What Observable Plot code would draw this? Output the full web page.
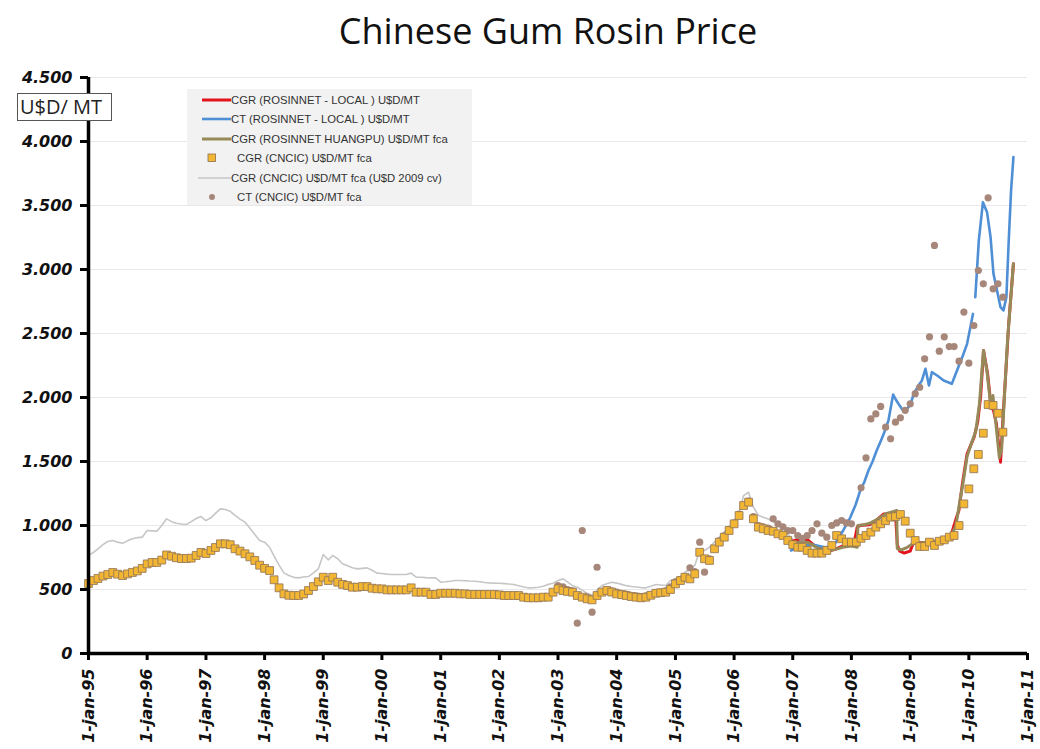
<!DOCTYPE html>
<html><head><meta charset="utf-8">
<script src="https://cdn.jsdelivr.net/npm/d3@7"></script>
<script src="https://cdn.jsdelivr.net/npm/@observablehq/plot@0.6"></script>
<style>
body{margin:0;background:#fff;width:1040px;height:749px;overflow:hidden;position:relative;font-family:"Open Sans",sans-serif}
#title{height:62px;line-height:62px;text-align:center;font-size:36px;color:#111;padding-left:56px;box-sizing:border-box;width:1040px}
#unit{position:absolute;left:17px;top:93px;width:91px;height:26px;border:1px solid #555;background:#fff;font-size:20px;line-height:26px;padding-left:2px;box-sizing:content-box;color:#222}
#legend{position:absolute;left:187px;top:89px;width:285px;height:116px;background:#f2f2f2}
.row{position:absolute;left:14px;height:16px;display:flex;align-items:center;font-family:"Liberation Sans",sans-serif;font-size:11.3px;color:#333;white-space:nowrap}
.row svg{flex:none}
</style></head><body>
<div id="title">Chinese Gum Rosin Price</div>
<div id="chart"></div>
<div id="unit">U$D/ MT</div>
<div id="legend"></div>
<script>
// ---- Data ----
// CGR (CNCIC) U$D/MT fca, monthly from Jan 1995
const cgrCncic = [
 547,570,586,605,617,633,620,609,622,633,645,665,
 700,711,711,730,770,760,748,742,742,745,766,790,
 781,805,828,857,857,850,818,800,779,755,727,690,
 665,648,576,513,466,455,453,453,465,492,523,560,
 596,570,596,557,540,531,518,518,523,523,510,505,
 505,497,497,497,497,497,513,479,479,479,461,461,
 471,471,471,471,466,466,461,461,461,461,461,461,
 458,453,453,453,453,440,435,435,435,440,440,479,
 505,492,485,479,453,440,427,419,453,479,492,480,
 466,460,453,445,440,435,440,455,471,475,479,500,
 544,570,596,583,622,791,740,727,818,870,909,961,
 1013,1078,1156,1182,1052,987,974,961,955,935,922,883,
 850,830,830,805,784,784,784,805,844,922,896,870,
 870,870,900,922,948,987,1013,1039,1065,1070,1086,1034,
 940,883,836,836,870,844,877,888,909,922,1000,1169,
 1286,1443,1555,1721,1945,1938,1877,1729
];
// CGR (CNCIC) U$D/MT fca (U$D 2009 cv), monthly from Jan 1995
const cgrCncic2009 = [
 766,790,818,850,875,883,870,862,880,896,905,909,
 961,958,955,1000,1052,1030,1018,1012,1008,1030,1055,1070,
 1039,1060,1095,1130,1125,1111,1080,1050,1026,980,930,883,
 870,830,760,690,630,609,595,591,598,601,630,661,
 773,732,766,740,701,685,670,661,665,669,650,628,
 625,620,617,617,617,617,628,596,596,593,591,591,
 557,560,565,570,570,568,566,565,560,555,552,550,
 549,546,543,539,530,520,513,515,518,525,540,549,
 570,583,560,530,518,495,470,453,495,531,545,557,
 550,540,530,523,520,515,513,525,539,535,531,570,
 583,600,635,660,688,805,805,830,870,909,950,987,
 1040,1091,1234,1260,1143,1080,1065,1050,1030,1013,980,930,
 896
];
// CT (CNCIC) U$D/MT fca, monthly from Jan 2003
const ctCncic = [
 530,520,500,490,237,961,440,323,674,480,500,490,
 480,470,465,455,450,445,450,460,475,480,490,520,
 560,580,600,670,640,870,635,740,820,880,920,970,
 1020,1090,1160,1190,1070,1000,990,980,1052,1013,990,960,
 961,922,900,922,961,1013,940,909,1000,1020,1039,1020,
 1013,null,1294,1529,1833,1872,1930,1768,1677,1807,1841,1900,
 1951,2030,2080,2302,2474,3188,2362,2474,2398,2398,2284,2667,
 2268,2562,2992,2888,3560,2849,2888,2784
];
// CGR (ROSINNET - LOCAL) U$D/MT
const redT = [2007.0,2007.1,2007.25,2007.35,2007.5,2007.62,2007.75,2007.9,2008.05,2008.1,2008.15,2008.3,2008.42,2008.55,2008.7,2008.75,2008.78,2008.82,2008.9,2009.0,2009.05,2009.15,2009.3,2009.45,2009.6,2009.7,2009.78,2009.83,2009.89,2009.97,2010.09,2010.15,2010.2,2010.25,2010.32,2010.38,2010.42,2010.47,2010.54,2010.59,2010.68,2010.76];
const redV = [880,890,890,850,810,800,820,850,870,990,1000,1005,1040,1090,1094,1090,850,800,785,800,860,865,870,880,895,930,1050,1117,1326,1560,1690,1807,2003,2367,2185,1924,1900,1794,1495,1900,2575,3044];
// CT (ROSINNET - LOCAL) U$D/MT  (null = gap in the line)
const blueT = [2006.97,2007.1,2007.2,2007.35,2007.45,2007.55,2007.64,2007.72,2007.78,2007.86,2007.98,2008.07,2008.15,2008.22,2008.29,2008.36,2008.43,2008.5,2008.55,2008.63,2008.71,2008.76,2008.8,2008.86,2008.92,2009.0,2009.06,2009.15,2009.2,2009.26,2009.32,2009.37,2009.46,2009.57,2009.71,2009.82,2009.9,2009.97,2010.07,2010.09,2010.11,2010.17,2010.24,2010.31,2010.37,2010.42,2010.48,2010.54,2010.59,2010.64,2010.68,2010.72,2010.76];
const blueV = [805,830,845,850,840,830,835,860,900,961,1062,1160,1273,1340,1430,1500,1586,1660,1716,1820,2023,1980,1951,1910,1898,1940,2029,2100,2133,2224,2094,2198,2172,2133,2107,2237,2330,2419,2653,null,2784,3227,3526,3448,3253,2966,2836,2706,2680,2784,3227,3617,3878];
// CGR (ROSINNET HUANGPU) U$D/MT fca
const oliveT = [2007.0,2007.1,2007.25,2007.4,2007.55,2007.7,2007.85,2008.0,2008.1,2008.11,2008.2,2008.3,2008.45,2008.6,2008.72,2008.77,2008.78,2008.85,2008.95,2009.05,2009.2,2009.35,2009.5,2009.6,2009.7,2009.78,2009.85,2009.9,2009.97,2010.05,2010.12,2010.18,2010.25,2010.31,2010.37,2010.41,2010.46,2010.52,2010.56,2010.6,2010.66,2010.76];
const oliveV = [860,870,870,830,800,810,830,840,830,1000,1005,1015,1050,1095,1110,1117,820,810,830,860,865,875,880,890,920,1000,1200,1330,1540,1650,1740,1950,2367,2200,1950,2016,1800,1530,1600,1950,2450,3044];
// Axis ticks
const yTicks = [0,500,1000,1500,2000,2500,3000,3500,4000,4500];
const yTickLabels = ["0","500","1.000","1.500","2.000","2.500","3.000","3.500","4.000","4.500"];
const xTickYears = [1995,1996,1997,1998,1999,2000,2001,2002,2003,2004,2005,2006,2007,2008,2009,2010,2011];
const xTickLabels = ["1-jan-95","1-jan-96","1-jan-97","1-jan-98","1-jan-99","1-jan-00","1-jan-01","1-jan-02","1-jan-03","1-jan-04","1-jan-05","1-jan-06","1-jan-07","1-jan-08","1-jan-09","1-jan-10","1-jan-11"];

// ---- Build tables ----
const monthly = (vals, y0) => vals.map((v,i)=>({date:new Date(Date.UTC(y0,i,1)), v}));
const decYear = t => { const y=Math.floor(t+1e-9); const a=Date.UTC(y,0,1), b=Date.UTC(y+1,0,1); return new Date(a+(t-y)*(b-a)); };
const series = (T,V) => T.map((t,i)=>({date:decYear(t), v:V[i]}));
const squares = monthly(cgrCncic,1995);
const gray = monthly(cgrCncic2009,1995);
const ctDots = monthly(ctCncic,2003).filter(d=>d.v!=null);
const red = series(redT,redV), blue = series(blueT,blueV), olive = series(oliveT,oliveV);
const xTickDates = xTickYears.map(y=>new Date(Date.UTC(y,0,1)));
const xLab = new Map(xTickYears.map((y,i)=>[y,xTickLabels[i]]));
const yLab = new Map(yTicks.map((v,i)=>[v,yTickLabels[i]]));
const x0 = xTickDates[0], x1 = xTickDates[xTickDates.length-1];

const C = {red:"#e3141e", blue:"#4f8fd6", olive:"#968b58", gray:"#c6c6c6", sqFill:"#f2b632", sqStroke:"#9a7a58", dot:"#a6877a"};

const chart = Plot.plot({
  width:1040, height:687, marginLeft:88, marginRight:13, marginTop:15, marginBottom:96,
  style:{fontFamily:"DejaVu Sans", background:"transparent", overflow:"visible"},
  x:{type:"utc", domain:[x0,x1]},
  y:{domain:[0,4500]},
  marks:[
    Plot.gridY(yTicks.slice(1),{stroke:"#e8e8e8", strokeOpacity:1}),
    Plot.line(gray,{x:"date",y:"v",stroke:C.gray,strokeWidth:1.6}),
    Plot.line(red,{x:"date",y:"v",stroke:C.red,strokeWidth:3}),
    Plot.line(blue,{x:"date",y:"v",stroke:C.blue,strokeWidth:2.6}),
    Plot.line(olive,{x:"date",y:"v",stroke:C.olive,strokeWidth:3}),
    Plot.dot(ctDots,{x:"date",y:"v",r:3.6,fill:C.dot,stroke:"none"}),
    Plot.dot(squares,{x:"date",y:"v",symbol:"square",r:4.4,fill:C.sqFill,stroke:C.sqStroke,strokeWidth:0.9}),
    Plot.axisY({ticks:yTicks, tickFormat:v=>yLab.get(v), tickSize:8, tickPadding:8, fontSize:16, fontWeight:"bold", fontStyle:"italic", stroke:"#000", strokeWidth:3, label:null, fill:"#111"}),
    Plot.axisX({ticks:xTickDates, tickFormat:d=>xLab.get(d.getUTCFullYear()), tickRotate:-90, tickSize:7, tickPadding:8, fontSize:16, fontWeight:"bold", fontStyle:"italic", stroke:"#000", strokeWidth:3, label:null, fill:"#111"}),
    Plot.ruleX([x0],{stroke:"#000",strokeWidth:3.5}),
    Plot.ruleY([0],{stroke:"#000",strokeWidth:3.5})
  ]
});
document.getElementById("chart").appendChild(chart);

// ---- Legend ----
const legendItems = [
  {label:"CGR (ROSINNET - LOCAL ) U$D/MT", kind:"line", color:C.red, w:3},
  {label:"CT (ROSINNET - LOCAL ) U$D/MT", kind:"line", color:C.blue, w:2.6},
  {label:"CGR (ROSINNET HUANGPU) U$D/MT fca", kind:"line", color:C.olive, w:3},
  {label:"CGR (CNCIC) U$D/MT fca", kind:"square"},
  {label:"CGR (CNCIC) U$D/MT fca (U$D 2009 cv)", kind:"line", color:C.gray, w:1.5},
  {label:"CT (CNCIC) U$D/MT fca", kind:"dot"}
];
const lg = document.getElementById("legend");
legendItems.forEach((it,i)=>{
  const row = document.createElement("div");
  row.className="row"; row.style.top=(3+i*19.4)+"px";
  let sw;
  if(it.kind==="line") sw=`<svg width="${it.color===C.gray?34:30}" height="16" style="margin-left:${it.color===C.gray?-4:0}px"><line x1="1" x2="${it.color===C.gray?34:30}" y1="8" y2="8" stroke="${it.color}" stroke-width="${it.w}"/></svg>`;
  else if(it.kind==="square") sw=`<svg width="36" height="16"><rect x="7" y="4" width="7.5" height="7.5" fill="${C.sqFill}" stroke="${C.sqStroke}" stroke-width="0.9"/></svg>`;
  else sw=`<svg width="36" height="16"><circle cx="11" cy="8" r="3" fill="${C.dot}"/></svg>`;
  row.innerHTML = sw + `<span>${it.label}</span>`;
  lg.appendChild(row);
});
</script>
</body></html>
